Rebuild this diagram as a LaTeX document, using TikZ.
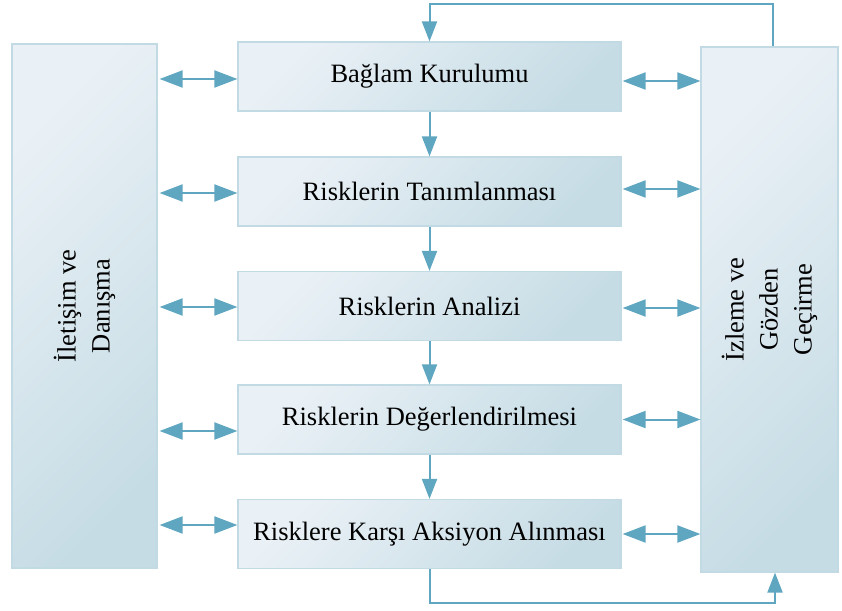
\documentclass[tikz,border=0pt]{standalone}
\usepackage{fontspec}
\setmainfont{Liberation Serif}
\usetikzlibrary{arrows.meta}

\definecolor{boxedge}{HTML}{C2DAE4}
\definecolor{shadelight}{HTML}{EAF1F6}
\definecolor{shadedark}{HTML}{C6DCE5}
\definecolor{flow}{HTML}{5FA6C0}

\begin{document}
\begin{tikzpicture}[x=1pt, y=-1pt,
  panel/.style={draw=boxedge, line width=1.2pt,
    top color=shadelight, bottom color=shadedark, shading angle=45,
    inner sep=0pt, text=black,
    font=\fontsize{26.5}{34}\selectfont},
  stagebox/.style={panel, minimum width=383pt, minimum height=69pt},
  sidebox/.style={panel},
  sidelabel/.style={rotate=90, align=center, text=black,
    font=\fontsize{26.5}{34}\selectfont},
  link/.style={draw=flow, line width=2pt},
  onearrow/.style={link, -{Triangle[length=20pt, width=15pt]}},
  twoarrow/.style={link, {Triangle[length=23pt, width=17pt]}-{Triangle[length=23pt, width=17pt]}}
]
\useasboundingbox (0,0) rectangle (842,610);

% process stages
\node[stagebox] (s1) at (429.5,76.5) {Bağlam Kurulumu};
\node[stagebox] (s2) at (429.5,191.5) {Risklerin Tanımlanması};
\node[stagebox] (s3) at (429.5,306) {Risklerin Analizi};
\node[stagebox] (s4) at (429.5,419.5) {Risklerin Değerlendirilmesi};
\node[stagebox] (s5) at (429.5,534) {Risklere Karşı Aksiyon Alınması};

% side panels
\node[sidebox, minimum width=145pt, minimum height=524pt] (L) at (84.5,306) {};
\node[sidelabel] (Ltext) at (L.center) {İletişim ve\\Danışma};
\node[sidebox, minimum width=137pt, minimum height=525pt] (R) at (769.5,309.5) {};
\node[sidelabel] (Rtext) at (R.center) {İzleme ve\\Gözden\\Geçirme};

% flow between stages
\draw[onearrow] (s1.south) -- (s2.north);
\draw[onearrow] (s2.south) -- (s3.north);
\draw[onearrow] (s3.south) -- (s4.north);
\draw[onearrow] (s4.south) -- (s5.north);

% communication links on the left
\draw[twoarrow, shorten <=2pt] ([yshift=-2.5pt]s1.west -| L.east) -- ([yshift=-2.5pt]s1.west);
\draw[twoarrow, shorten <=2pt] ([yshift=-1.5pt]s2.west -| L.east) -- ([yshift=-1.5pt]s2.west);
\draw[twoarrow, shorten <=2pt] ([yshift=-1pt]s3.west -| L.east) -- ([yshift=-1pt]s3.west);
\draw[twoarrow, shorten <=2pt] ([yshift=-11.5pt]s4.west -| L.east) -- ([yshift=-11.5pt]s4.west);
\draw[twoarrow, shorten <=2pt] ([yshift=9pt]s5.west -| L.east) -- ([yshift=9pt]s5.west);

% monitoring links on the right
\draw[twoarrow, shorten <=1pt] ([yshift=-4.5pt]s1.east) -- ([yshift=-4.5pt]s1.east -| R.west);
\draw[twoarrow, shorten <=1pt] ([yshift=2.5pt]s2.east) -- ([yshift=2.5pt]s2.east -| R.west);
\draw[twoarrow, shorten <=1pt] ([yshift=-2pt]s3.east) -- ([yshift=-2pt]s3.east -| R.west);
\draw[twoarrow, shorten <=1pt] (s4.east) -- (s4.east -| R.west);
\draw[twoarrow, shorten <=1pt] (s5.east) -- (s5.east -| R.west);

% feedback loops
\coordinate (topR) at ([xshift=3.5pt]R.north);
\coordinate (botR) at ([xshift=5.5pt]R.south);
\draw[onearrow] (topR) -- ++(0,-42) -| (s1.north);
\draw[onearrow] (s5.south) -- ++(0,34) -| (botR);
\end{tikzpicture}
\end{document}
